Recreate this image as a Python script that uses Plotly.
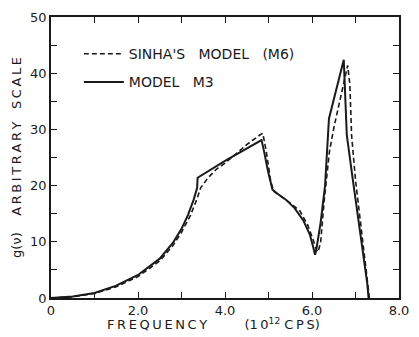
import plotly.graph_objects as go

# Frequency spectrum g(nu): Sinha's model (M6) vs model M3
freq_m6 = [0, 0.5, 1.0, 1.5, 2.0, 2.5, 2.8, 3.0, 3.2, 3.35, 3.44, 3.6, 3.8, 4.0, 4.2,
           4.5, 4.8, 4.87, 4.95, 5.05, 5.12, 5.3, 5.5, 5.72, 5.9, 6.02, 6.1, 6.14,
           6.2, 6.28, 6.4, 6.5, 6.65, 6.82, 6.87, 6.91, 7.0, 7.14, 7.25, 7.32]
g_m6 = [0, 0.2, 0.8, 2.0, 3.8, 6.6, 9.3, 11.7, 14.6, 17.5, 19.6, 21.3, 22.9, 24.0, 25.3,
        27.3, 29.0, 29.3, 26.0, 20.8, 19.0, 18.0, 16.9, 15.5, 13.0, 10.5, 8.6, 8.2,
        10.0, 17.3, 26.0, 30.2, 35.5, 41.4, 38.0, 29.0, 21.0, 11.4, 4.5, 0]

freq_m3 = [0, 0.5, 1.0, 1.5, 2.0, 2.5, 2.8, 3.0, 3.15, 3.28, 3.36, 3.37, 4.0, 4.84,
           4.9, 4.99, 5.09, 5.2, 5.4, 5.6, 5.8, 5.95, 6.03, 6.07, 6.1, 6.2, 6.3, 6.39,
           6.73, 6.8, 6.93, 7.06, 7.17, 7.27, 7.3]
g_m3 = [0, 0.25, 0.9, 2.2, 4.1, 7.0, 9.8, 12.3, 14.8, 17.5, 19.6, 21.4, 24.4, 28.1,
        26.0, 22.5, 19.3, 18.6, 17.5, 16.0, 13.8, 11.3, 9.0, 7.7, 8.6, 13.5, 20.0, 31.9,
        42.4, 29.0, 21.5, 14.3, 8.0, 2.6, 0]

x_tickvals = [0, 2, 4, 6, 8]
x_ticktext = ["0", "2.0", "4.0", "6.0", "8.0"]
y_tickvals = [0, 10, 20, 30, 40, 50]
y_ticktext = ["0", "10", "20", "30", "40", "50"]

ink = "#1a1a1a"
font = "DejaVu Sans"


def spaced(text):
    """Open up the lettering with thin spaces between characters."""
    return "\u2009".join(text)


sp = "\u00a0"

fig = go.Figure()
fig.add_trace(go.Scatter(x=freq_m6, y=g_m6, mode="lines", legendgroup="m6",
                         name=f"SINHA'S{sp*3}MODEL{sp*3}(M6)",
                         line=dict(color=ink, width=1.6, dash="5px,3px")))
fig.add_trace(go.Scatter(x=freq_m3, y=g_m3, mode="lines", legendgroup="m3",
                         name=f"MODEL{sp*3}M3",
                         line=dict(color=ink, width=2)))

axis_common = dict(showgrid=False, zeroline=False, showline=True, linecolor=ink,
                   linewidth=1.5, mirror="allticks", ticks="inside", ticklen=6,
                   tickwidth=1.3, tickcolor=ink,
                   tickfont=dict(family=font, size=13, color=ink))

x_title = (spaced("FREQUENCY") + sp * 9 + "(" + spaced("10") + "<sup>12</sup>"
           + sp + spaced("CPS") + ")")
y_title = "g(ν)" + sp * 4 + spaced("ARBITRARY") + sp * 3 + spaced("SCALE")

fig.update_xaxes(range=[0, 8], tickvals=x_tickvals, ticktext=x_ticktext,
                 minor=dict(dtick=1, ticks="inside", ticklen=6, tickwidth=1.3,
                            tickcolor=ink),
                 **axis_common)
fig.update_yaxes(range=[0, 50], tickvals=y_tickvals, ticktext=y_ticktext,
                 minor=dict(dtick=5, ticks="inside", ticklen=6, tickwidth=1.3,
                            tickcolor=ink),
                 title=dict(text=y_title, font=dict(family=font, size=13, color=ink),
                            standoff=6),
                 **axis_common)

# x-axis caption sits slightly left of the plot centre
fig.add_annotation(text=x_title, xref="paper", yref="paper", x=0.468, y=0,
                   xanchor="center", yanchor="middle", yshift=-26, showarrow=False,
                   font=dict(family=font, size=13, color=ink))

fig.update_layout(
    width=419, height=337, autosize=False,
    margin=dict(l=51, r=10, t=14, b=39),
    paper_bgcolor="white", plot_bgcolor="white",
    legend=dict(x=0.08, y=0.925, xanchor="left", yanchor="top",
                bgcolor="rgba(0,0,0,0)", font=dict(family=font, size=14, color=ink),
                tracegroupgap=7, itemwidth=40),
)

fig.write_html("out.html")
